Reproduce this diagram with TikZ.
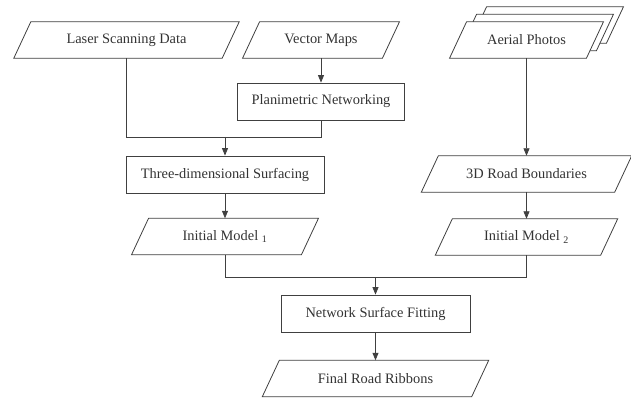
\documentclass[tikz,border=0pt]{standalone}
\usepackage{fontspec}
\setmainfont{Liberation Serif}
\usetikzlibrary{arrows.meta,calc,backgrounds}
\newcommand\paralat[3]{\draw[paraline] ($(#1.south west)+(-8.5+#2,#3)$) -- ($(#1.north west)+(8.5+#2,#3)$) -- ($(#1.north east)+(8.5+#2,#3)$) -- ($(#1.south east)+(-8.5+#2,#3)$) -- cycle;}
\begin{document}
\begin{tikzpicture}[x=1pt,y=-1pt,
  txt/.style={font=\fontsize{14.4}{16}\selectfont, text=black!80},
  io/.style={txt, minimum height=36pt, inner sep=0pt},
  proc/.style={txt, draw=black!75, line width=0.8pt, minimum height=37pt, inner sep=0pt},
  line/.style={draw=black!75, line width=0.8pt},
  arr/.style={line, -{Triangle[length=7.5pt,width=6pt]}},
  paraline/.style={draw=black!75, line width=0.8pt, fill=white, line join=miter}]
\useasboundingbox (0,0) rectangle (631,398);

% nodes
\node[io, minimum width=208pt] (laser) at (126.5,40) {Laser Scanning Data};
\node[io, minimum width=139.5pt] (vector) at (321,40) {Vector Maps};
\node[io, minimum width=136.5pt] (aerial) at (526.5,40) {Aerial Photos};
\node[proc, minimum width=167pt] (plan) at (321,101.5) {Planimetric Networking};
\node[proc, minimum width=198pt] (three) at (225,174.5) {Three-dimensional Surfacing};
\node[io, minimum width=193pt] (road3d) at (526.5,174) {3D Road Boundaries};
\node[io, minimum width=169.5pt] (im1) at (225,236.5) {Initial Model \textsubscript{1}};
\node[io, minimum width=165pt] (im2) at (526.5,237) {Initial Model \textsubscript{2}};
\node[proc, minimum width=189pt] (net) at (375.5,313.5) {Network Surface Fitting};
\node[io, minimum width=209pt] (final) at (375.5,378.5) {Final Road Ribbons};

\begin{scope}[on background layer]
  \paralat{laser}{0}{0}
  \paralat{vector}{0}{0}
  \paralat{aerial}{20}{-15}
  \paralat{aerial}{10}{-7.5}
  \paralat{aerial}{0}{0}
  \paralat{road3d}{0}{0}
  \paralat{im1}{0}{0}
  \paralat{im2}{0}{0}
  \paralat{final}{0}{0}
\end{scope}

% connectors
\coordinate (j1) at (225,137);
\coordinate (j2) at (375.5,277);
\draw[line] (laser.south) |- (plan.south |- j1) -- (plan.south);
\draw[arr] (j1) -- (three.north);
\draw[arr] (vector.south) -- (plan.north);
\draw[arr] (three.south) -- (im1.north);
\draw[arr] (aerial.south) -- (road3d.north);
\draw[arr] (road3d.south) -- (im2.north);
\draw[line] (im1.south) |- (im2.south |- j2) -- (im2.south);
\draw[arr] (j2) -- (net.north);
\draw[arr] (net.south) -- (final.north);
\end{tikzpicture}
\end{document}
